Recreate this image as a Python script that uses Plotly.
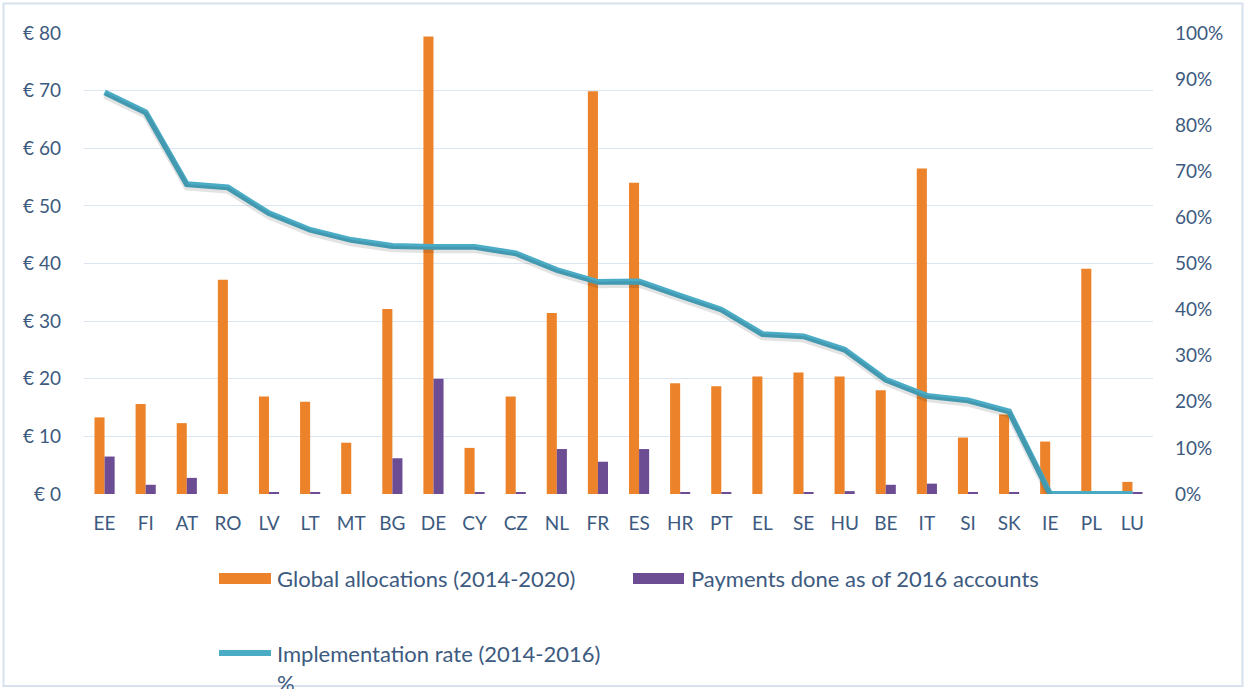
import plotly.graph_objects as go

# ---------------- data ----------------
countries = ["EE", "FI", "AT", "RO", "LV", "LT", "MT", "BG", "DE", "CY", "CZ", "NL", "FR",
             "ES", "HR", "PT", "EL", "SE", "HU", "BE", "IT", "SI", "SK", "IE", "PL", "LU"]
allocations = [13.3, 15.6, 12.3, 37.2, 16.9, 16.0, 8.9, 32.1, 79.4, 8.0, 16.9, 31.4, 69.9,
               54.0, 19.2, 18.7, 20.4, 21.1, 20.4, 18.0, 56.5, 9.8, 13.8, 9.1, 39.1, 2.1]
payments = [6.5, 1.6, 2.8, 0.0, 0.3, 0.3, 0.0, 6.2, 20.0, 0.3, 0.3, 7.8, 5.6,
            7.8, 0.3, 0.3, 0.0, 0.3, 0.5, 1.6, 1.8, 0.3, 0.3, 0.0, 0.0, 0.3]
impl_rate = [0.871, 0.828, 0.672, 0.665, 0.609, 0.573, 0.551, 0.538, 0.536, 0.536, 0.522, 0.486, 0.460,
             0.461, 0.430, 0.400, 0.347, 0.342, 0.313, 0.248, 0.213, 0.203, 0.179, 0.0, 0.0, 0.0]

y_ticks = [0, 10, 20, 30, 40, 50, 60, 70, 80]
y_ticktext = ["€ " + str(v) for v in y_ticks]

name_alloc = "Global allocations (2014-2020)"
name_pay = "Payments done as of 2016 accounts"
name_rate = "Implementation rate (2014-2016)<br>%"

# ---------------- styling ----------------
ORANGE = "#EC832A"
PURPLE = "#6C4C92"
TEAL = "#4BACC6"
TXT = "#3D5A80"
GRID = "#DCE6F2"
FONT = "Lato"
FS = 19
FS_LEG = 22

W, H = 1245, 689
L, R, T, B = 84, 92, 33, 195
PW, PH = W - L - R, H - T - B


def px(x):
    return (x - L) / PW


def py(y):
    return (H - B - y) / PH


fig = go.Figure()
fig.add_bar(x=countries, y=allocations, name=name_alloc, marker=dict(color=ORANGE, line=dict(width=0)),
            showlegend=False)
fig.add_bar(x=countries, y=payments, name=name_pay, marker=dict(color=PURPLE, line=dict(width=0)),
            showlegend=False)
# soft shadow under the line
fig.add_scatter(x=countries, y=impl_rate, yaxis="y3", mode="lines", hoverinfo="skip",
                line=dict(color="rgba(0,0,0,0.11)", width=6.5), showlegend=False)
fig.add_scatter(x=countries, y=impl_rate, name=name_rate, yaxis="y2", mode="lines",
                line=dict(color=TEAL, width=5.8), showlegend=False)

fig.update_layout(
    width=W, height=H,
    margin=dict(l=L, r=R, t=T, b=B, pad=0),
    paper_bgcolor="white", plot_bgcolor="white",
    barmode="group", bargap=0.51, bargroupgap=0,
    font=dict(family=FONT, size=FS, color=TXT),
    xaxis=dict(showgrid=False, showline=False, zeroline=False, ticks="",
               tickfont=dict(family=FONT, size=FS, color=TXT), ticklabelstandoff=16),
    yaxis=dict(range=[0, 80], tickvals=y_ticks, ticktext=y_ticktext, showgrid=True,
               gridcolor=GRID, gridwidth=1.3, zeroline=False, showline=False, ticks="",
               tickfont=dict(family=FONT, size=FS, color=TXT), ticklabelstandoff=22),
    yaxis2=dict(range=[0, 1], overlaying="y", side="right", tickformat=".0%", dtick=0.1,
                showgrid=False, zeroline=False, showline=False, ticks="",
                tickfont=dict(family=FONT, size=FS, color=TXT), ticklabelstandoff=21),
    yaxis3=dict(range=[0.0065, 1.0065], overlaying="y", visible=False),
)

shapes = []
annotations = []
# outer border of the chart
shapes.append(dict(type="rect", xref="paper", yref="paper", x0=px(3.5), x1=px(1242.5),
                   y0=py(3.5), y1=py(686), line=dict(color="#D8E2EF", width=2), fillcolor="rgba(0,0,0,0)",
                   layer="below"))
# legend: bars
shapes.append(dict(type="rect", xref="paper", yref="paper", x0=px(219), x1=px(271), y0=py(573), y1=py(584),
                   fillcolor=ORANGE, line=dict(width=0)))
annotations.append(dict(xref="paper", yref="paper", x=px(275), y=py(578), text=name_alloc, showarrow=False,
                        xanchor="left", yanchor="middle", font=dict(family=FONT, size=FS_LEG, color=TXT)))
shapes.append(dict(type="rect", xref="paper", yref="paper", x0=px(633), x1=px(684), y0=py(573), y1=py(584),
                   fillcolor=PURPLE, line=dict(width=0)))
annotations.append(dict(xref="paper", yref="paper", x=px(689), y=py(578), text=name_pay, showarrow=False,
                        xanchor="left", yanchor="middle", font=dict(family=FONT, size=FS_LEG, color=TXT)))
# legend: line
shapes.append(dict(type="line", xref="paper", yref="paper", x0=px(219), x1=px(271), y0=py(653), y1=py(653),
                   line=dict(color=TEAL, width=5.8)))
annotations.append(dict(xref="paper", yref="paper", x=px(275), y=py(638), text=name_rate, showarrow=False,
                        xanchor="left", yanchor="top", align="left",
                        font=dict(family=FONT, size=FS_LEG, color=TXT)))

fig.update_layout(shapes=shapes, annotations=annotations)

fig.write_html("out.html", config={"displayModeBar": False},
               post_script="document.body.style.margin='0';")
